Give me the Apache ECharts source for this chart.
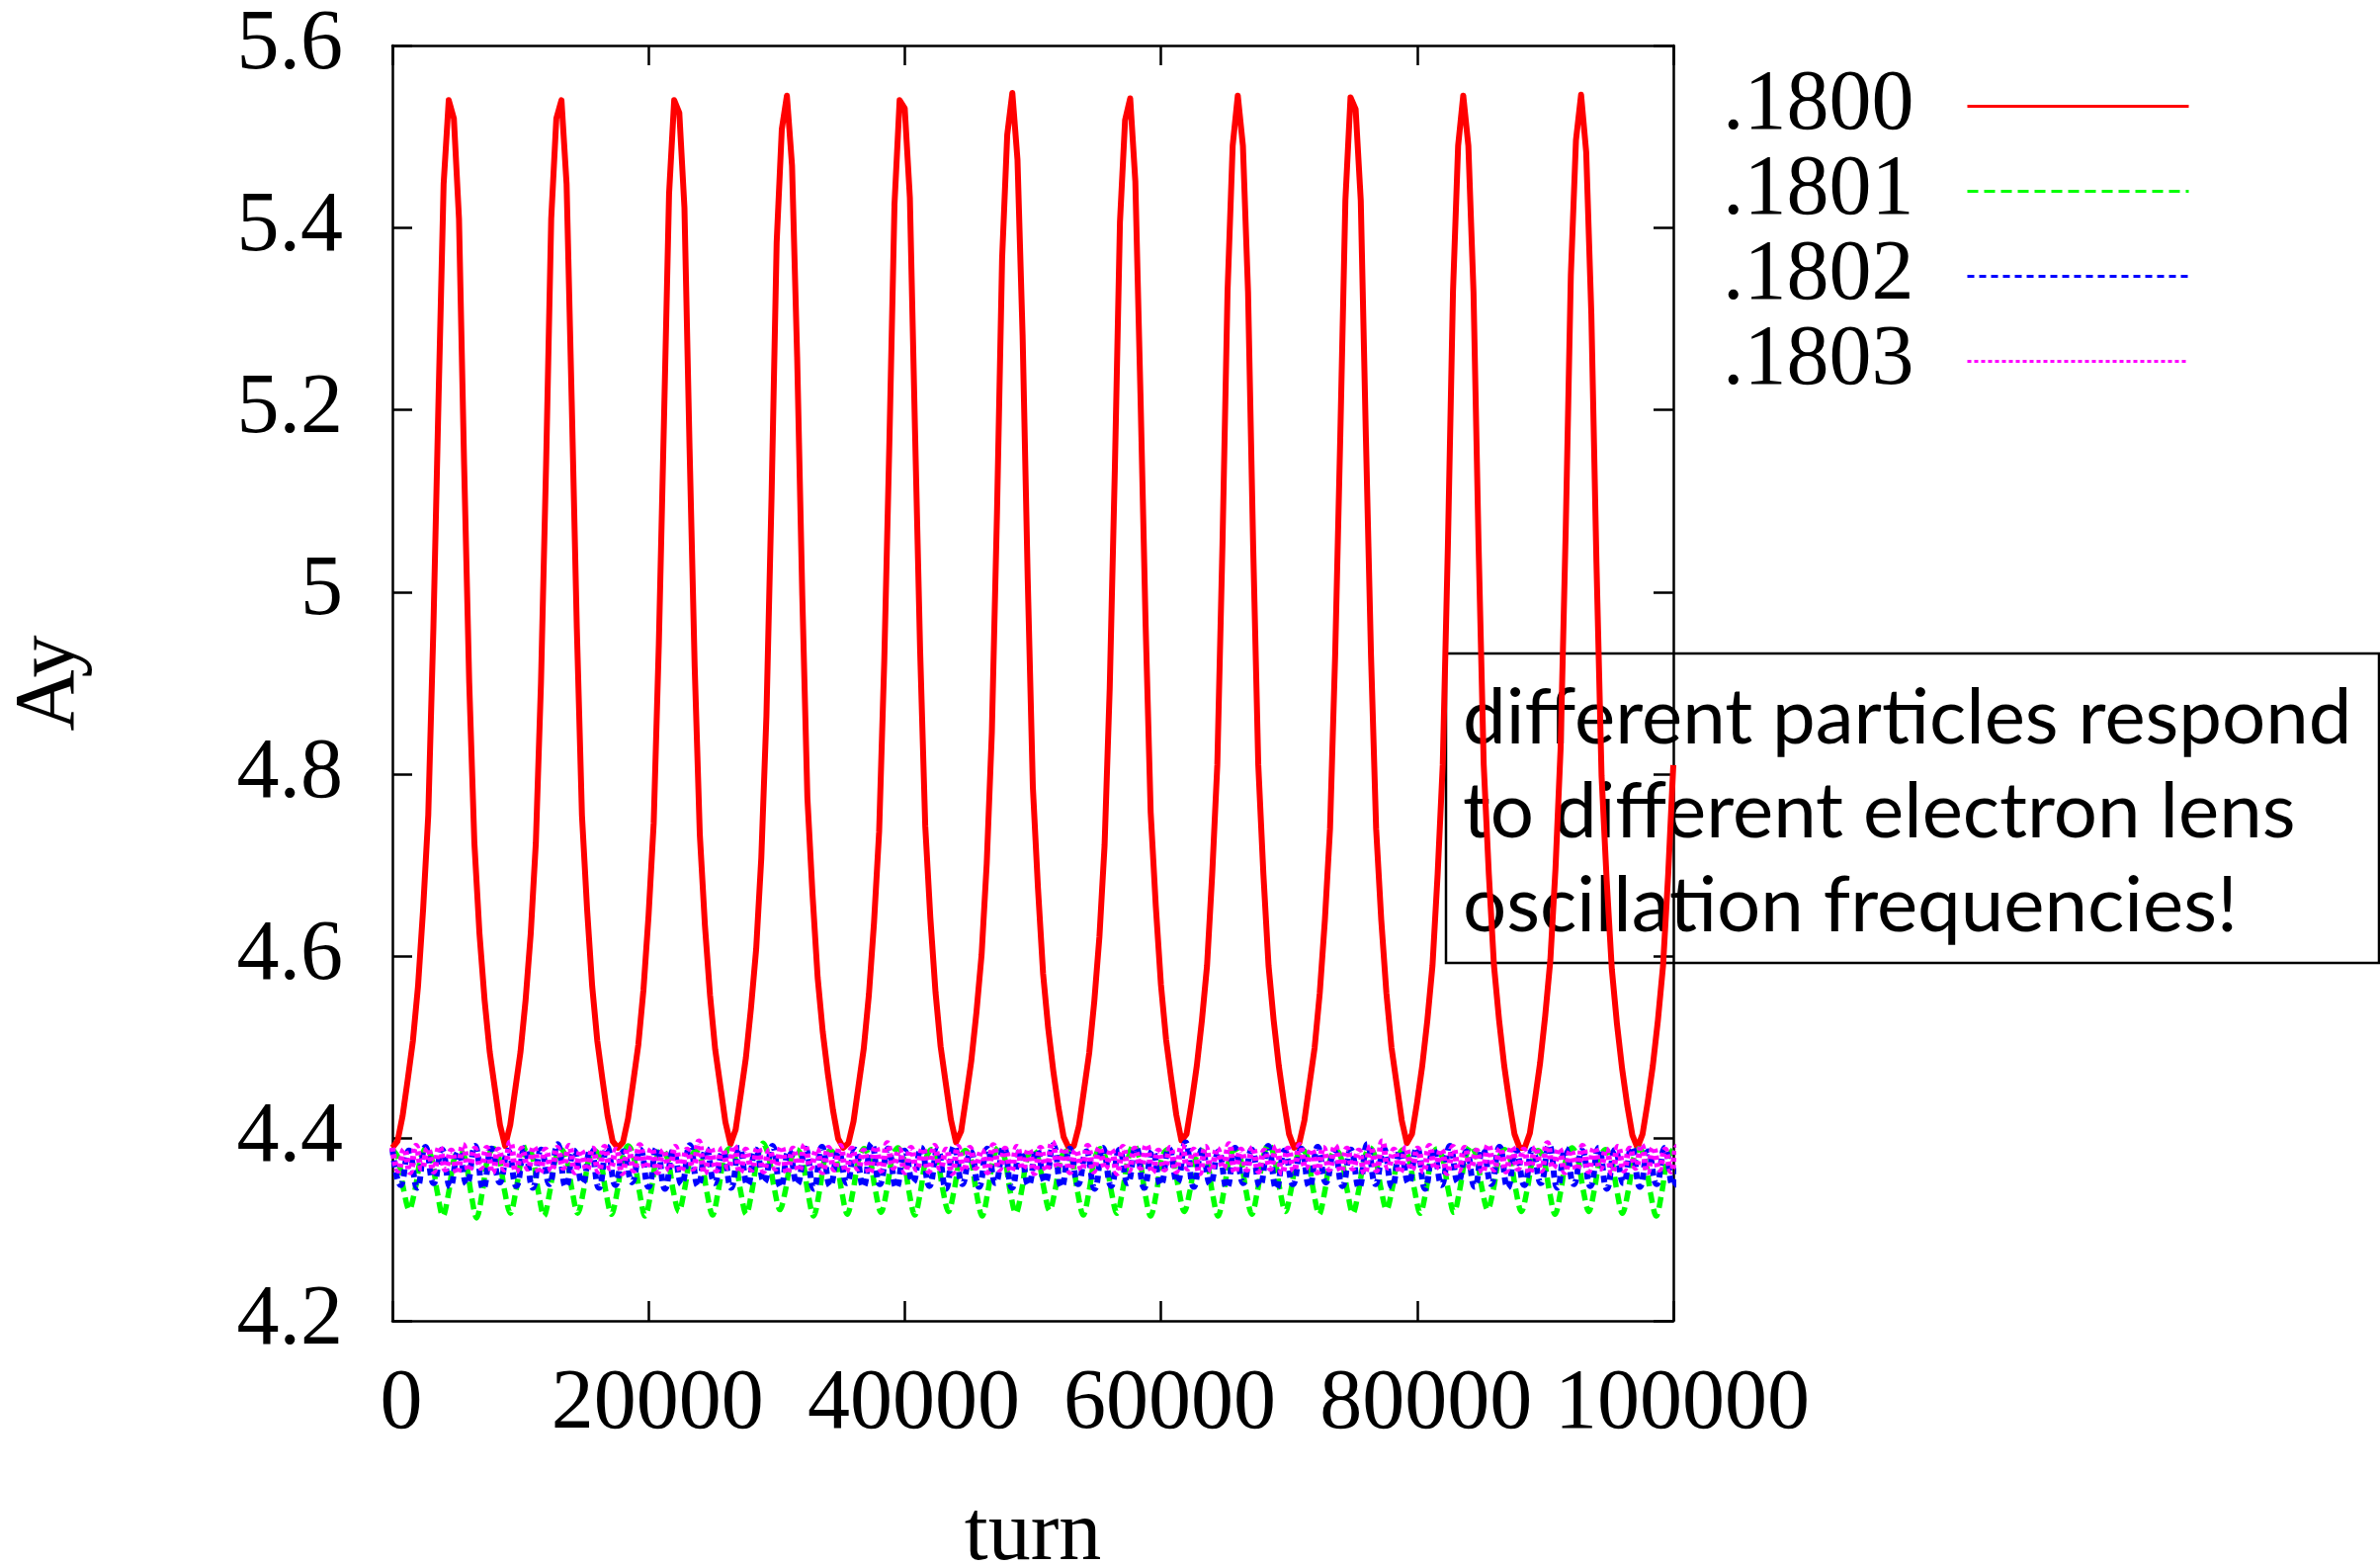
<!DOCTYPE html>
<html>
<head>
<meta charset="utf-8">
<script src="https://cdn.jsdelivr.net/npm/echarts@6/dist/echarts.min.js"></script>
<style>
html, body { margin: 0; padding: 0; background: #fff; }
#chart { width: 2408px; height: 1584px; }
</style>
</head>
<body>
<div id="chart"></div>
<script>
// Axis ticks and labels
const turnTicks = [0, 20000, 40000, 60000, 80000, 100000];
const ayTickLabels = ['4.2', '4.4', '4.6', '4.8', '5', '5.2', '5.4', '5.6'];
const seriesNames = ['.1800', '.1801', '.1802', '.1803'];

// Ay sampled every 400 turns, tune .1800
const step1800 = 400;
const ay1800 = [
  4.390,4.397,4.425,4.465,4.507,4.567,4.652,4.755,4.960,5.210,
  5.448,5.540,5.520,5.410,5.140,4.900,4.725,4.625,4.552,4.495,
  4.455,4.415,4.392,4.415,4.455,4.495,4.552,4.625,4.725,4.900,
  5.140,5.410,5.520,5.540,5.448,5.210,4.960,4.755,4.652,4.567,
  4.507,4.465,4.425,4.397,4.390,4.396,4.422,4.462,4.503,4.563,
  4.645,4.746,4.942,5.186,5.437,5.540,5.526,5.422,5.158,4.918,
  4.734,4.634,4.557,4.498,4.458,4.418,4.394,4.410,4.449,4.489,
  4.544,4.608,4.708,4.864,5.104,5.384,5.508,5.545,5.468,5.258,
  4.996,4.774,4.668,4.577,4.517,4.471,4.431,4.400,4.390,4.395,
  4.419,4.459,4.499,4.558,4.637,4.737,4.924,5.164,5.426,5.540,
  5.531,5.433,5.178,4.936,4.743,4.642,4.561,4.501,4.461,4.421,
  4.396,4.408,4.446,4.486,4.539,4.602,4.702,4.846,5.086,5.366,
  5.502,5.548,5.475,5.282,5.014,4.786,4.675,4.581,4.521,4.474,
  4.434,4.402,4.390,4.392,4.414,4.454,4.494,4.551,4.622,4.722,
  4.894,5.134,5.406,5.518,5.542,5.451,5.218,4.966,4.758,4.655,
  4.569,4.509,4.466,4.426,4.398,4.405,4.440,4.480,4.530,4.590,
  4.690,4.810,5.050,5.330,5.490,5.545,5.490,5.330,5.050,4.810,
  4.690,4.590,4.530,4.480,4.440,4.405,4.390,4.395,4.420,4.460,
  4.500,4.560,4.640,4.740,4.930,5.170,5.430,5.543,5.530,5.430,
  5.170,4.930,4.740,4.640,4.560,4.500,4.460,4.420,4.395,4.405,
  4.440,4.480,4.530,4.590,4.690,4.810,5.050,5.330,5.490,5.545,
  5.490,5.330,5.050,4.810,4.690,4.590,4.530,4.480,4.440,4.405,
  4.390,4.390,4.406,4.443,4.483,4.535,4.596,4.696,4.828,5.068,
  5.348,5.496,5.546,5.483,5.306,5.032,4.798,4.683,4.586,4.526,
  4.477,4.437,4.404,4.390,4.405,4.440,4.480,4.530,4.590,4.690,
  4.810
];

// Ay sampled every 438.5 turns, tune .1801
const step1801 = 438.5;
const ay1801 = [
  4.388,4.379,4.344,4.322,4.343,4.377, 4.390,4.378,4.341,4.315,4.340,4.378,
  4.387,4.377,4.340,4.313,4.341,4.379, 4.389,4.378,4.342,4.318,4.343,4.378,
  4.391,4.379,4.341,4.315,4.341,4.377, 4.388,4.378,4.343,4.318,4.342,4.378,
  4.387,4.377,4.342,4.317,4.341,4.379, 4.392,4.379,4.341,4.315,4.340,4.378,
  4.388,4.378,4.343,4.320,4.344,4.377, 4.386,4.377,4.341,4.316,4.342,4.378,
  4.389,4.379,4.342,4.317,4.342,4.379, 4.395,4.380,4.345,4.322,4.344,4.378,
  4.388,4.377,4.340,4.315,4.341,4.378, 4.387,4.378,4.342,4.317,4.342,4.377,
  4.389,4.378,4.343,4.319,4.343,4.379, 4.390,4.379,4.341,4.316,4.341,4.378,
  4.388,4.378,4.344,4.320,4.343,4.377, 4.387,4.377,4.340,4.315,4.341,4.378,
  4.391,4.379,4.342,4.318,4.342,4.379, 4.388,4.378,4.345,4.321,4.344,4.378,
  4.386,4.377,4.341,4.316,4.341,4.377, 4.389,4.378,4.342,4.318,4.343,4.378,
  4.393,4.379,4.340,4.315,4.340,4.379, 4.388,4.378,4.344,4.320,4.343,4.378,
  4.387,4.377,4.340,4.315,4.341,4.377, 4.389,4.378,4.342,4.317,4.342,4.378,
  4.394,4.380,4.344,4.320,4.344,4.379, 4.388,4.378,4.342,4.317,4.342,4.378,
  4.387,4.377,4.343,4.318,4.342,4.377, 4.390,4.379,4.345,4.322,4.345,4.378,
  4.388,4.378,4.343,4.318,4.342,4.379, 4.389,4.378,4.343,4.319,4.343,4.378,
  4.392,4.380,4.345,4.322,4.344,4.378, 4.388,4.378,4.344,4.320,4.343,4.377,
  4.387,4.377,4.342,4.317,4.342,4.378, 4.390,4.379,4.344,4.320,4.344,4.379,
  4.388,4.378,4.343,4.318,4.342,4.378, 4.389,4.378,4.340,4.315,4.341,4.378,
  4.388
];

// Ay sampled every 645 turns, tune .1802
const step1802 = 645;
const ay1802 = [
  4.389,4.349, 4.387,4.346, 4.391,4.351, 4.388,4.347, 4.386,4.350, 4.392,4.345, 4.389,4.352, 4.387,4.348, 4.390,4.346, 4.388,4.350,
  4.394,4.347, 4.387,4.351, 4.389,4.346, 4.391,4.349, 4.386,4.352, 4.388,4.347, 4.390,4.345, 4.387,4.350, 4.393,4.348, 4.389,4.351,
  4.386,4.346, 4.390,4.349, 4.388,4.352, 4.392,4.347, 4.387,4.350, 4.389,4.345, 4.391,4.348, 4.386,4.351, 4.388,4.347, 4.395,4.350,
  4.389,4.346, 4.387,4.352, 4.390,4.348, 4.388,4.345, 4.392,4.350, 4.386,4.347, 4.389,4.351, 4.391,4.346, 4.387,4.349, 4.388,4.352,
  4.393,4.347, 4.389,4.350, 4.386,4.345, 4.390,4.348, 4.388,4.351, 4.391,4.346, 4.387,4.349, 4.389,4.352, 4.396,4.347, 4.388,4.350,
  4.386,4.346, 4.390,4.351, 4.388,4.348, 4.392,4.345, 4.387,4.350, 4.389,4.347, 4.391,4.352, 4.386,4.348, 4.388,4.346, 4.394,4.350,
  4.389,4.347, 4.387,4.351, 4.390,4.345, 4.388,4.349, 4.392,4.352, 4.386,4.347, 4.389,4.350, 4.391,4.346, 4.387,4.349, 4.388,4.351,
  4.393,4.346, 4.389,4.350, 4.387,4.348, 4.390,4.345, 4.388,4.351, 4.391,4.347, 4.386,4.350, 4.390,4.348,
  4.389
];

// Ay sampled every 460 turns, tune .1803
const step1803 = 460;
const ay1803 = [
  4.390,4.365, 4.388,4.363, 4.392,4.367, 4.389,4.364, 4.391,4.366, 4.387,4.362, 4.393,4.365, 4.389,4.368, 4.390,4.363, 4.388,4.366,
  4.396,4.364, 4.389,4.367, 4.391,4.362, 4.388,4.365, 4.390,4.368, 4.392,4.363, 4.387,4.366, 4.389,4.364, 4.391,4.367, 4.388,4.362,
  4.390,4.365, 4.393,4.368, 4.389,4.363, 4.387,4.366, 4.391,4.364, 4.388,4.367, 4.397,4.362, 4.390,4.365, 4.389,4.368, 4.392,4.363,
  4.388,4.366, 4.390,4.364, 4.387,4.367, 4.391,4.362, 4.389,4.365, 4.393,4.368, 4.388,4.363, 4.390,4.366, 4.392,4.364, 4.389,4.367,
  4.387,4.362, 4.391,4.365, 4.395,4.368, 4.388,4.363, 4.390,4.366, 4.389,4.364, 4.392,4.367, 4.388,4.362, 4.391,4.365, 4.390,4.368,
  4.387,4.363, 4.393,4.366, 4.389,4.364, 4.391,4.367, 4.388,4.362, 4.390,4.365, 4.396,4.368, 4.389,4.363, 4.387,4.366, 4.392,4.364,
  4.390,4.367, 4.388,4.362, 4.391,4.365, 4.389,4.368, 4.393,4.363, 4.387,4.366, 4.390,4.364, 4.392,4.367, 4.388,4.362, 4.391,4.365,
  4.389,4.368, 4.394,4.363, 4.388,4.366, 4.390,4.364, 4.387,4.367, 4.391,4.362, 4.389,4.365, 4.393,4.368, 4.388,4.363, 4.390,4.366,
  4.392,4.364, 4.389,4.367, 4.387,4.362, 4.391,4.365, 4.397,4.368, 4.388,4.363, 4.390,4.366, 4.389,4.364, 4.392,4.367, 4.388,4.362,
  4.391,4.365, 4.390,4.368, 4.387,4.363, 4.393,4.366, 4.389,4.364, 4.391,4.367, 4.388,4.362, 4.390,4.365, 4.395,4.368, 4.389,4.363,
  4.387,4.366, 4.392,4.364, 4.390,4.367, 4.388,4.362, 4.391,4.365, 4.389,4.368, 4.393,4.363, 4.390,4.366, 4.388,4.364, 4.391,4.367
];

const noteLines = [
  'different particles respond',
  'to different electron lens',
  'oscillation frequencies!'
];

const serif = "'Liberation Serif', 'Times New Roman', serif";
const axisFontSize = 86;

function toPairs(values, step) {
  return values.map((v, i) => [i * step, v]);
}

const frameLine = { show: true, onZero: false, lineStyle: { color: '#000', width: 2.5 } };
const frameTick = { show: true, inside: true, length: 20, lineStyle: { color: '#000', width: 2.5 } };
const xRange = { type: 'value', min: turnTicks[0], max: turnTicks[turnTicks.length - 1], interval: turnTicks[1] - turnTicks[0] };
const yRange = { type: 'value', min: 4.2, max: 5.6, interval: 0.2 };

const chart = echarts.init(document.getElementById('chart'), null, { renderer: 'canvas' });

chart.setOption({
  animation: false,
  backgroundColor: '#fff',
  grid: { left: 397, right: 715, top: 46, bottom: 248, containLabel: false, outerBoundsMode: 'none' },
  xAxis: [
    Object.assign({}, xRange, {
      position: 'bottom',
      name: 'turn',
      nameLocation: 'middle',
      nameGap: 175,
      nameTextStyle: { fontFamily: serif, fontSize: axisFontSize, color: '#000', lineHeight: 86 },
      axisLine: frameLine,
      axisTick: frameTick,
      splitLine: { show: false },
      axisLabel: {
        margin: 42,
        fontFamily: serif,
        fontSize: axisFontSize,
        color: '#000',
        lineHeight: 86,
        padding: [0, 0, 0, 18],
        formatter: v => String(v)
      }
    }),
    Object.assign({}, xRange, {
      position: 'top',
      axisLine: frameLine,
      axisTick: frameTick,
      splitLine: { show: false },
      axisLabel: { show: false }
    })
  ],
  yAxis: [
    Object.assign({}, yRange, {
      position: 'left',
      name: 'Ay',
      nameLocation: 'middle',
      nameRotate: 90,
      nameGap: 303,
      nameTextStyle: { fontFamily: serif, fontSize: axisFontSize, color: '#000', lineHeight: 86 },
      axisLine: frameLine,
      axisTick: frameTick,
      splitLine: { show: false },
      axisLabel: {
        margin: 50,
        fontFamily: serif,
        fontSize: axisFontSize,
        color: '#000',
        formatter: v => ayTickLabels[Math.round((v - 4.2) / 0.2)] || ''
      }
    }),
    Object.assign({}, yRange, {
      position: 'right',
      axisLine: frameLine,
      axisTick: frameTick,
      splitLine: { show: false },
      axisLabel: { show: false }
    })
  ],
  legend: {
    orient: 'vertical',
    right: 192,
    top: 64.5,
    padding: 0,
    align: 'right',
    itemWidth: 224,
    itemHeight: 14,
    itemGap: 0,
    selectedMode: false,
    data: seriesNames,
    textStyle: {
      fontFamily: serif,
      fontSize: axisFontSize,
      color: '#000',
      lineHeight: 86,
      padding: [0, 49, 0, 0]
    },
    itemStyle: { opacity: 0 },
    lineStyle: { width: 3 }
  },
  series: [
    {
      name: seriesNames[0], type: 'line', symbol: 'none', showSymbol: false,
      data: toPairs(ay1800, step1800),
      lineStyle: { color: '#ff0000', width: 6, join: 'round' },
      itemStyle: { color: '#ff0000' },
      z: 2
    },
    {
      name: seriesNames[1], type: 'line', symbol: 'none', showSymbol: false, smooth: 0.35,
      data: toPairs(ay1801, step1801),
      lineStyle: { color: '#00ff00', width: 5.5, type: [11, 6] },
      itemStyle: { color: '#00ff00' },
      z: 3
    },
    {
      name: seriesNames[2], type: 'line', symbol: 'none', showSymbol: false, smooth: true,
      data: toPairs(ay1802, step1802),
      lineStyle: { color: '#0000ff', width: 6, type: [7, 5] },
      itemStyle: { color: '#0000ff' },
      z: 4
    },
    {
      name: seriesNames[3], type: 'line', symbol: 'none', showSymbol: false, smooth: true,
      data: toPairs(ay1803, step1803),
      lineStyle: { color: '#ff00ff', width: 6, type: [4, 3] },
      itemStyle: { color: '#ff00ff' },
      z: 5
    }
  ],
  graphic: [
    {
      type: 'group',
      z: 100,
      children: [
        {
          type: 'rect',
          shape: { x: 1463, y: 661, width: 944, height: 313 },
          style: { fill: '#fff', stroke: '#000', lineWidth: 2.5 }
        }
      ].concat(noteLines.map((line, i) => ({
        type: 'text',
        x: 1480,
        y: 727 + i * 95,
        style: {
          text: line,
          fontFamily: 'Lato, sans-serif',
          fontSize: 78,
          fill: '#000',
          verticalAlign: 'middle',
          align: 'left'
        }
      })))
    }
  ]
});
</script>
</body>
</html>
